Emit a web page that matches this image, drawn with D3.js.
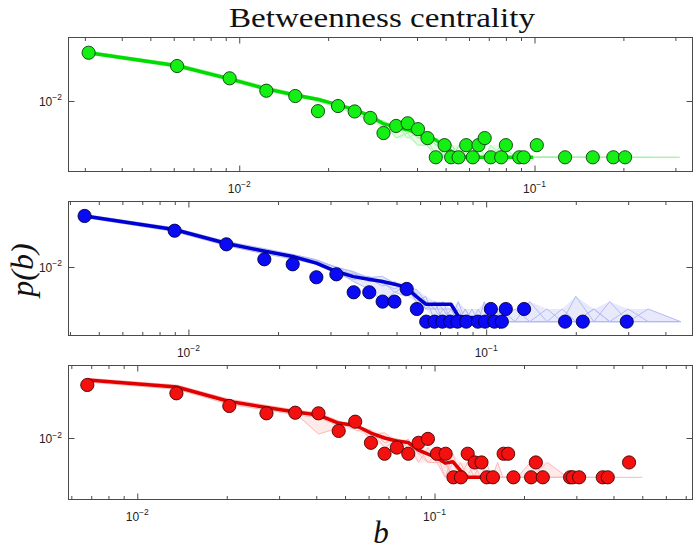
<!DOCTYPE html>
<html><head><meta charset="utf-8">
<script src="https://cdn.jsdelivr.net/npm/d3@7"></script>
<style>body{margin:0;background:#fff}</style></head>
<body>
<svg id="chart" width="697" height="551"></svg>
<script>
// ---------- DATA ----------
const titleText = "Betweenness centrality";
const xLabelText = "b";
const yLabelText = "p(b)";

// Panel 1 (green)
const ptsB1 = [0.00309, 0.00616, 0.00928, 0.01235, 0.01548, 0.01848, 0.0216, 0.0246, 0.0278, 0.0308, 0.034, 0.0372, 0.0403, 0.0434, 0.0463, 0.0496, 0.0522, 0.0553, 0.0587, 0.0618, 0.0646, 0.0678, 0.0711, 0.0771, 0.08, 0.0888, 0.0919, 0.1018, 0.1269, 0.1575, 0.1849, 0.2026];
const ptsP1 = [0.158, 0.074, 0.0366, 0.018, 0.0133, 0.0056, 0.0075, 0.0055, 0.0038, 0.0016, 0.0024, 0.0028, 0.002, 0.0012, 0.0004, 0.0008, 0.0004, 0.0004, 0.0008, 0.0004, 0.0008, 0.0012, 0.0004, 0.0004, 0.0008, 0.0004, 0.0004, 0.0008, 0.0004, 0.0004, 0.0004, 0.0004];
const grid1 = [0.00309, 0.00618, 0.00927, 0.01236, 0.01545, 0.01854, 0.02163, 0.02472, 0.02781, 0.0309, 0.034, 0.0371, 0.0402, 0.0433, 0.0464, 0.0494, 0.0525, 0.0556, 0.0587, 0.0618, 0.0649, 0.068, 0.0711, 0.0773, 0.0865, 0.0989, 0.124, 0.155, 0.2, 0.25, 0.31];
const mean1 = [0.158, 0.075, 0.0355, 0.020, 0.0141, 0.0109, 0.0080, 0.0060, 0.0042, 0.0027, 0.00225, 0.00194, 0.0016, 0.0013, 0.00107, 0.00077, 0.00055, 0.00043, 0.0004, 0.0004, 0.0004, 0.0004, 0.0004, 0.0004, 0.0004, 0.0004];
const ens1a = [0.172, 0.083, 0.0395, 0.0225, 0.0155, 0.0118, 0.0076, 0.0064, 0.0036, 0.0032, 0.002, 0.0024, 0.0012, 0.0016, 0.0008, 0.0012, 0.0004, 0.0008, 0.0004, 0.0004, 0.0008, 0.0004, 0.0004, 0.0004, 0.0004, 0.0004, 0.0004, 0.0004, 0.0004, 0.0004, 0.0004];
const ens1b = [0.146, 0.068, 0.0322, 0.018, 0.0128, 0.0102, 0.0088, 0.0052, 0.0048, 0.0024, 0.0028, 0.0016, 0.002, 0.0008, 0.0012, 0.0004, 0.0008, 0.0004, 0.0004, 0.0008, 0.0004, 0.0004, 0.0004, 0.0008, 0.0004, 0.0004, 0.0004, 0.0004, 0.0004, null, null];
const ens1c = [0.164, 0.078, 0.037, 0.021, 0.0152, 0.0112, 0.0072, 0.006, 0.004, 0.0028, 0.0024, 0.002, 0.0012, 0.0012, 0.0008, 0.0008, 0.0004, 0.0004, 0.0008, 0.0004, 0.0004, 0.0004, 0.0004, 0.0004, 0.0004, 0.0004, 0.0004, 0.0004, null, null, null];
const ens1d = [0.152, 0.071, 0.0338, 0.0188, 0.0131, 0.0108, 0.0084, 0.0056, 0.0044, 0.002, 0.0016, 0.0024, 0.0016, 0.0008, 0.0012, 0.0004, 0.0004, 0.0008, 0.0004, 0.0004, 0.0004, 0.0004, 0.0008, 0.0004, 0.0004, 0.0004, 0.0004, 0.0004, 0.0004, 0.0004, null];
const ens1e = [0.159, 0.076, 0.0355, 0.0198, 0.0142, 0.012, 0.008, 0.0068, 0.004, 0.0024, 0.0028, 0.0012, 0.0016, 0.0012, 0.0004, 0.0008, 0.0008, 0.0004, 0.0004, 0.0004, 0.0004, 0.0004, 0.0004, 0.0004, 0.0004, 0.0004, 0.0004, null, null, null, null];
const ens1f = [0.167, 0.074, 0.036, 0.0205, 0.0138, 0.0096, 0.0068, 0.0048, 0.0032, 0.0028, 0.0012, 0.0016, 0.0008, 0.0008, 0.0004, 0.0004, 0.0004, 0.0004, 0.0004, 0.0008, 0.0004, 0.0004, 0.0004, 0.0004, 0.0004, 0.0004, 0.0004, 0.0004, 0.0004, 0.0004, 0.0004];

// Panel 2 (blue)
const ptsB2 = [0.00448, 0.00899, 0.01341, 0.01799, 0.0224, 0.0269, 0.0314, 0.0359, 0.0405, 0.0449, 0.0492, 0.0541, 0.0585, 0.0629, 0.0671, 0.0713, 0.0757, 0.0801, 0.0857, 0.0938, 0.0992, 0.1037, 0.1066, 0.1129, 0.1164, 0.1341, 0.1841, 0.2111, 0.2966];
const ptsP2 = [0.164, 0.0731, 0.0347, 0.01525, 0.0116, 0.0057, 0.0067, 0.0025, 0.0025, 0.0015, 0.0015, 0.003, 0.001, 0.0005, 0.0005, 0.0005, 0.0005, 0.0005, 0.0005, 0.0005, 0.0005, 0.001, 0.0005, 0.0005, 0.001, 0.001, 0.0005, 0.0005, 0.0005];
const grid2 = [0.00448, 0.00896, 0.01344, 0.0179, 0.0224, 0.0269, 0.0314, 0.0358, 0.0403, 0.0448, 0.0493, 0.0538, 0.0582, 0.0627, 0.0672, 0.0717, 0.0762, 0.0806, 0.0851, 0.0896, 0.0941, 0.0986, 0.103, 0.108, 0.112, 0.125, 0.14, 0.16, 0.18, 0.2, 0.23, 0.26, 0.3, 0.35, 0.45];
const mean2 = [0.164, 0.078, 0.0363, 0.024, 0.0178, 0.0124, 0.0078, 0.0059, 0.0051, 0.0045, 0.0039, 0.0033, 0.002, 0.0013, 0.0013, 0.0013, 0.0013, 0.00068, 0.00063, 0.00063, 0.00062, 0.00062, 0.00061, 0.00061, 0.00035];
const ens2a = [0.178, 0.086, 0.0405, 0.0275, 0.02, 0.015, 0.0095, 0.0065, 0.0055, 0.0035, 0.0045, 0.0025, 0.002, 0.0015, 0.001, 0.0015, 0.0005, 0.001, 0.0005, 0.0005, 0.001, 0.0005, 0.0005, 0.0005, 0.001, 0.0005, 0.0005, 0.001, 0.0005, 0.0005, 0.0005, 0.0015, 0.0005, 0.0005, 0.0005];
const ens2b = [0.15, 0.07, 0.032, 0.0208, 0.0155, 0.0115, 0.007, 0.005, 0.006, 0.004, 0.003, 0.004, 0.0015, 0.001, 0.0015, 0.0005, 0.001, 0.0005, 0.001, 0.0005, 0.0005, 0.0015, 0.0005, 0.0005, 0.0005, 0.001, 0.0005, 0.0005, 0.0005, 0.002, 0.0005, 0.0005, 0.0005, 0.001, 0.0005];
const ens2c = [0.17, 0.082, 0.038, 0.0255, 0.0188, 0.0145, 0.01, 0.0075, 0.0045, 0.005, 0.0035, 0.003, 0.0025, 0.001, 0.001, 0.001, 0.0005, 0.0005, 0.0005, 0.001, 0.0005, 0.0005, 0.0005, 0.001, 0.0005, 0.0005, 0.0015, 0.0005, 0.0005, 0.0005, 0.001, 0.0005, 0.0005, 0.0005, 0.0005];
const ens2d = [0.156, 0.074, 0.034, 0.0222, 0.0168, 0.012, 0.0075, 0.007, 0.005, 0.0045, 0.0025, 0.0035, 0.0015, 0.002, 0.0005, 0.001, 0.001, 0.0005, 0.0005, 0.0005, 0.0005, 0.0005, 0.001, 0.0005, 0.0005, 0.0005, 0.0005, 0.0005, 0.001, 0.0005, 0.0005, 0.0005, 0.001, 0.0005, null];
const ens2e = [0.163, 0.079, 0.0375, 0.0245, 0.018, 0.0135, 0.0085, 0.0045, 0.003, 0.0015, 0.0025, 0.002, 0.003, 0.0015, 0.001, 0.0005, 0.0005, 0.0015, 0.0005, 0.0005, 0.0005, 0.0005, 0.0005, 0.0005, 0.0005, 0.0005, 0.0005, 0.0005, 0.0005, 0.0005, 0.0005, 0.0005, 0.0005, null, null];
const ens2f = [0.168, 0.081, 0.0385, 0.0255, 0.0188, 0.0138, 0.0098, 0.0078, 0.0055, 0.006, 0.004, 0.003, 0.002, 0.001, 0.0015, 0.001, 0.0005, 0.0005, 0.001, 0.0005, 0.0005, 0.0005, 0.0005, 0.0005, 0.0005, 0.0005, 0.0005, 0.0005, 0.0005, 0.0005, 0.001, 0.0005, 0.0005, 0.0005, 0.0005];

// Panel 3 (red)
const ptsB3 = [0.00679, 0.01354, 0.0204, 0.0272, 0.034, 0.0407, 0.0476, 0.0541, 0.0611, 0.0679, 0.0747, 0.0816, 0.0884, 0.095, 0.1019, 0.109, 0.1158, 0.1227, 0.1293, 0.1365, 0.1439, 0.15, 0.1572, 0.1708, 0.1769, 0.1843, 0.2113, 0.2192, 0.2314, 0.2858, 0.2919, 0.3064, 0.3681, 0.3827, 0.4513];
const ptsP3 = [0.1184, 0.0803, 0.0445, 0.0316, 0.0325, 0.0316, 0.0139, 0.0214, 0.008, 0.0048, 0.0064, 0.0048, 0.008, 0.0096, 0.0048, 0.0048, 0.0016, 0.0016, 0.0048, 0.0032, 0.0032, 0.0016, 0.0016, 0.0048, 0.0048, 0.0016, 0.0016, 0.0032, 0.0016, 0.0016, 0.0016, 0.0016, 0.0016, 0.0016, 0.0032];
const grid3 = [0.00679, 0.01358, 0.0204, 0.0272, 0.034, 0.0407, 0.0475, 0.0543, 0.0611, 0.0679, 0.0747, 0.0815, 0.0883, 0.0951, 0.1019, 0.1086, 0.1154, 0.1222, 0.129, 0.1358, 0.1426, 0.1494, 0.1562, 0.163, 0.1698, 0.19, 0.21, 0.24, 0.28, 0.33, 0.4, 0.5];
const mean3 = [0.149, 0.1076, 0.0548, 0.0414, 0.0336, 0.0292, 0.0201, 0.0179, 0.0126, 0.01, 0.0087, 0.0081, 0.0057, 0.0047, 0.004, 0.0031, 0.0033, 0.0022, 0.0016, 0.0016, 0.0016, 0.0016];
const ens3a = [0.162, 0.118, 0.061, 0.046, 0.037, 0.032, 0.0224, 0.016, 0.0144, 0.008, 0.0096, 0.0064, 0.0064, 0.0032, 0.0048, 0.0032, 0.0016, 0.0032, 0.0016, 0.0016, 0.0016, 0.0032, 0.0016, 0.0016, 0.0016, 0.0016, 0.0016, 0.0032, 0.0016, 0.0016, null, null];
const ens3b = [0.136, 0.097, 0.048, 0.037, 0.0295, 0.026, 0.0176, 0.0192, 0.0096, 0.0112, 0.0064, 0.0096, 0.0048, 0.0048, 0.0032, 0.0016, 0.0048, 0.0016, 0.0016, 0.0032, 0.0016, 0.0016, 0.0016, 0.0016, 0.0016, 0.0016, 0.0032, 0.0016, 0.0016, null, null, null];
const ens3c = [0.155, 0.113, 0.057, 0.0405, 0.036, 0.03, 0.0208, 0.0144, 0.0128, 0.0096, 0.008, 0.008, 0.0032, 0.0064, 0.0032, 0.0048, 0.0032, 0.0016, 0.0016, 0.0016, 0.0032, 0.0016, 0.0016, 0.0016, 0.0016, 0.0016, 0.0016, 0.0016, 0.0016, 0.0016, 0.0016, 0.0016];
const ens3d = [0.143, 0.102, 0.052, 0.043, 0.032, 0.012, 0.016, 0.0192, 0.0112, 0.0128, 0.008, 0.0048, 0.0064, 0.0048, 0.0048, 0.0016, 0.0032, 0.0016, 0.0032, 0.0016, 0.0016, 0.0016, 0.0016, 0.0032, 0.0016, 0.0016, 0.0016, 0.0016, null, null, null, null];
const ens3e = [0.15, 0.108, 0.055, 0.042, 0.034, 0.03, 0.0192, 0.0176, 0.0144, 0.0064, 0.0096, 0.008, 0.0048, 0.0032, 0.0032, 0.0032, 0.0016, 0.0016, 0.0016, 0.0016, 0.0016, 0.0016, 0.0016, 0.0016, 0.0016, 0.0016, 0.0016, 0.0016, 0.0016, 0.0016, 0.0016, null];

// Axis limits (log) and tick labels
const xLimits = [[0.002641, 0.3428], [0.003956, 0.4932], [0.00587, 0.7377]];
const yLimits = [[1.775e-4, 0.3775], [2.339e-4, 0.3626], [5.69e-4, 0.2935]];
const xTickMajors = [0.01, 0.1];
const xTickLabels = ["\u22122", "\u22121"];
const yTickMajors = [0.01];
const yTickLabels = ["\u22122"];

// ---------- STYLE / LAYOUT ----------
const styles = [
  {fill: "#14f014", stroke: "#0b3d0b", mean: "#00dc00", ens: "#a6f2a6"},
  {fill: "#0a0af5", stroke: "#00004a", mean: "#0000d2", ens: "#b3baf3"},
  {fill: "#f51010", stroke: "#4a0000", mean: "#e00000", ens: "#ffb8b8"}
];
const panelsData = [
  {pb: ptsB1, pp: ptsP1, grid: grid1, mean: mean1, ens: [ens1a, ens1b, ens1c, ens1d, ens1e, ens1f]},
  {pb: ptsB2, pp: ptsP2, grid: grid2, mean: mean2, ens: [ens2a, ens2b, ens2c, ens2d, ens2e, ens2f]},
  {pb: ptsB3, pp: ptsP3, grid: grid3, mean: mean3, ens: [ens3a, ens3b, ens3c, ens3d, ens3e]}
];
const L = 68.5, R = 692.5, H = 134;
const tops = [37.5, 201.5, 365.5];
const tickFont = "'Liberation Sans', Arial, Helvetica, sans-serif";
const serif = "'Liberation Serif', 'DejaVu Serif', serif";

const svg = d3.select("#chart");
const defs = svg.append("defs");

panelsData.forEach((pd, i) => {
  const top = tops[i], bot = top + H;
  const st = styles[i];
  const x = d3.scaleLog().domain(xLimits[i]).range([L, R]);
  const y = d3.scaleLog().domain(yLimits[i]).range([bot, top]);

  defs.append("clipPath").attr("id", "clip" + i)
    .append("rect").attr("x", L).attr("y", top).attr("width", R - L).attr("height", H);

  const g = svg.append("g");
  const plot = g.append("g").attr("clip-path", `url(#clip${i})`);

  const line = d3.line()
    .defined(d => d[1] != null)
    .x(d => x(d[0])).y(d => y(d[1]));

  // faint envelope of the ensemble
  const env = pd.grid.map((b, k) => {
    const vals = pd.ens.map(a => a[k]).filter(v => v != null);
    return vals.length >= 2 ? [b, d3.min(vals), d3.max(vals)] : [b, null, null];
  });
  const area = d3.area().defined(d => d[1] != null)
    .x(d => x(d[0])).y0(d => y(d[1])).y1(d => y(d[2]));
  plot.append("path").attr("d", area(env))
    .attr("fill", st.ens).attr("fill-opacity", 0.3);

  // ensemble (faint) lines
  pd.ens.forEach(arr => {
    const pts = pd.grid.map((b, k) => [b, k < arr.length ? arr[k] : null]);
    plot.append("path").attr("d", line(pts))
      .attr("fill", "none").attr("stroke", st.ens)
      .attr("stroke-width", 1).attr("stroke-opacity", 1)
      .attr("stroke-linejoin", "round");
  });

  // mean (thick) line
  const mpts = pd.grid.map((b, k) => [b, k < pd.mean.length ? pd.mean[k] : null]);
  plot.append("path").attr("d", line(mpts))
    .attr("fill", "none").attr("stroke", st.mean)
    .attr("stroke-width", 3.5).attr("stroke-linejoin", "round");

  // data points
  const pts = d3.zip(pd.pb, pd.pp);
  plot.selectAll("circle.pt").data(pts).join("circle")
    .attr("class", "pt")
    .attr("cx", d => x(d[0])).attr("cy", d => y(d[1])).attr("r", 6.6)
    .attr("fill", st.fill).attr("stroke", st.stroke).attr("stroke-width", 0.9);

  // axes frame
  g.append("rect").attr("x", L).attr("y", top).attr("width", R - L).attr("height", H)
    .attr("fill", "none").attr("stroke", "#4a4a4a").attr("stroke-width", 1);

  // x ticks (inward, bottom and top)
  const [d0, d1] = xLimits[i];
  const minors = [];
  for (let e = Math.floor(Math.log10(d0)); e <= Math.ceil(Math.log10(d1)); e++) {
    for (let m = 2; m <= 9; m++) {
      const v = m * Math.pow(10, e);
      if (v > d0 && v < d1) minors.push(v);
    }
  }
  const majors = xTickMajors.filter(v => v > d0 && v < d1);
  const tickStyle = sel => {
    sel.select(".domain").remove();
    sel.selectAll(".tick line").attr("stroke", "#4a4a4a");
  };
  g.append("g").attr("transform", `translate(0,${bot})`)
    .call(d3.axisBottom(x).tickValues(minors).tickSize(-3.5).tickFormat(""))
    .call(tickStyle);
  g.append("g").attr("transform", `translate(0,${bot})`)
    .call(d3.axisBottom(x).tickValues(majors).tickSize(-6).tickFormat(""))
    .call(tickStyle);
  g.append("g").attr("transform", `translate(0,${top})`)
    .call(d3.axisTop(x).tickValues(minors).tickSize(-3.5).tickFormat(""))
    .call(tickStyle);
  g.append("g").attr("transform", `translate(0,${top})`)
    .call(d3.axisTop(x).tickValues(majors).tickSize(-6).tickFormat(""))
    .call(tickStyle);

  // y ticks (inward, left and right)
  g.append("g").attr("transform", `translate(${L},0)`)
    .call(d3.axisLeft(y).tickValues(yTickMajors).tickSize(-6).tickFormat(""))
    .call(tickStyle);
  g.append("g").attr("transform", `translate(${R},0)`)
    .call(d3.axisRight(y).tickValues(yTickMajors).tickSize(-6).tickFormat(""))
    .call(tickStyle);

  // x tick labels 10^e
  xTickMajors.forEach((v, k) => {
    if (!(v > d0 && v < d1)) return;
    const t = g.append("text").attr("x", x(v)).attr("y", bot + 21)
      .attr("text-anchor", "middle").attr("font-family", tickFont)
      .attr("font-size", 12).attr("fill", "#222");
    t.append("tspan").text("10");
    t.append("tspan").attr("dy", -5.5).attr("font-size", 8.5).text(xTickLabels[k]);
  });
  // y tick labels
  yTickMajors.forEach((v, k) => {
    const t = g.append("text").attr("x", 62).attr("y", y(v) + 5)
      .attr("text-anchor", "end").attr("font-family", tickFont)
      .attr("font-size", 12).attr("fill", "#222");
    t.append("tspan").text("10");
    t.append("tspan").attr("dy", -5.5).attr("font-size", 8.5).text(yTickLabels[k]);
  });
});

// Title and axis labels
svg.append("text").attr("x", 382).attr("y", 27)
  .attr("text-anchor", "middle").attr("font-family", serif)
  .attr("font-size", 27).attr("fill", "#111")
  .attr("textLength", 306).attr("lengthAdjust", "spacingAndGlyphs")
  .text(titleText);
svg.append("text").attr("x", 381).attr("y", 543)
  .attr("text-anchor", "middle").attr("font-family", serif)
  .attr("font-style", "italic").attr("font-size", 31).attr("fill", "#111")
  .text(xLabelText);
svg.append("text").attr("transform", "translate(33,270) rotate(-90)")
  .attr("text-anchor", "middle").attr("font-family", serif)
  .attr("font-style", "italic").attr("font-size", 32).attr("fill", "#111")
  .text(yLabelText);
</script>
</body></html>
